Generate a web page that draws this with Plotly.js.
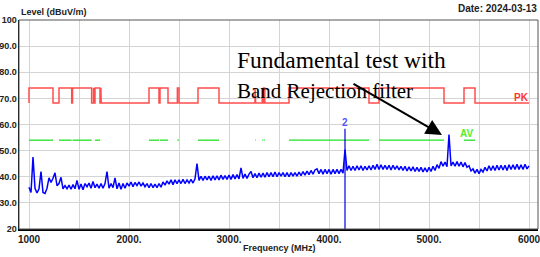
<!DOCTYPE html>
<html>
<head>
<meta charset="utf-8">
<script src="https://cdn.plot.ly/plotly-3.0.1.min.js"></script>
<style>html,body{margin:0;padding:0;background:#fff;}#chart{width:540px;height:257px;}</style>
</head>
<body>
<div id="chart"></div>
<script>
// Sweep grid of the measured trace (MHz)
var freqStart = 1000;
var freqStep = 20;
// Measured level (dBuV/m), one value per sweep point 1000..6000 MHz
var level = [
 36.0, 34.0, 47.5, 35.6, 33.8, 35.4, 42.0, 34.0, 33.6, 35.6,
 39.6, 37.8, 39.4, 41.5, 36.6, 37.4, 39.8, 35.4, 36.6, 35.4,
 36.8, 35.2, 37.0, 35.4, 38.6, 35.2, 37.2, 35.0, 37.4, 36.2,
 37.6, 35.6, 38.2, 35.8, 37.2, 35.6, 37.4, 35.6, 37.4, 42.0,
 35.6, 37.4, 35.8, 39.6, 35.4, 37.6, 35.2, 37.4, 35.6, 37.6,
 36.4, 38.0, 36.2, 37.8, 36.6, 38.0, 36.4, 37.6, 36.2, 37.4,
 35.8, 37.4, 35.8, 37.2, 35.8, 37.4, 36.0, 38.0, 36.8, 38.4,
 37.2, 38.8, 37.0, 38.8, 37.4, 38.8, 37.4, 39.0, 37.4, 38.8,
 37.6, 39.0, 37.6, 39.2, 45.0, 38.6, 40.2, 38.6, 40.2, 38.8,
 40.2, 38.6, 40.4, 38.8, 40.4, 38.8, 40.6, 39.0, 40.4, 39.0,
 40.6, 39.0, 40.8, 39.2, 40.8, 39.2, 43.4, 39.4, 41.0, 39.4,
 41.0, 42.0, 39.6, 41.2, 39.6, 41.4, 39.8, 41.4, 39.8, 41.6,
 40.0, 41.6, 40.0, 41.8, 40.0, 41.6, 40.2, 41.6, 40.0, 41.6,
 40.0, 41.6, 40.2, 41.6, 40.2, 41.8, 40.4, 42.0, 40.6, 42.2,
 40.8, 42.4, 41.0, 42.6, 43.0, 41.2, 42.8, 41.0, 42.8, 41.2,
 42.8, 41.0, 42.8, 41.2, 42.8, 41.2, 42.8, 41.4, 50.4, 42.4,
 44.2, 42.4, 44.0, 42.4, 44.2, 42.6, 44.2, 42.4, 44.0, 42.6,
 44.2, 42.6, 44.4, 42.8, 44.8, 42.8, 44.6, 42.8, 44.4, 42.8,
 44.4, 42.6, 44.4, 42.8, 44.2, 42.6, 44.0, 42.4, 44.0, 42.2,
 43.8, 42.2, 43.8, 42.0, 43.6, 42.0, 43.6, 41.8, 43.4, 41.8,
 43.6, 42.0, 44.0, 42.4, 44.6, 43.2, 45.8, 44.0, 45.6, 43.8,
 56.2, 44.2, 45.6, 44.0, 45.8, 44.0, 45.6, 43.8, 45.4, 43.6,
 44.2, 42.2, 43.0, 41.4, 42.8, 41.2, 42.8, 41.8, 43.6, 42.2,
 44.2, 42.4, 44.2, 42.4, 44.4, 42.6, 44.4, 42.6, 44.4, 42.4,
 44.6, 42.8, 44.6, 42.8, 44.8, 42.8, 44.6, 42.8, 44.8, 43.0,
 44.2
];
// Restricted bands (MHz) where the higher limits apply
var bandStart = [1000, 1300, 1435, 1645.5, 1660, 1718.8, 2200, 2310, 2483.5, 2690, 3260, 3332, 3345.8, 3600, 4500, 5350];
var bandEnd   = [1240, 1427, 1626.5, 1646.5, 1710, 1722.2, 2300, 2390, 2500, 2900, 3267, 3339, 3358, 4400, 5150, 5460];
var pkHigh = 74, pkLow = 68.2, avLimit = 54;
var limitStart = 1000, limitEnd = 6000;
// Marker 2
var markerFreq = 4160, markerLevel = 58.4, markerLabel = "2";
// Tick labels
var xTickVals = [1000, 1500, 2000, 2500, 3000, 3500, 4000, 4500, 5000, 5500, 6000];
var xTickText = ["1000", "", "2000.", "", "3000.", "", "4000.", "", "5000.", "", "6000"];
var yTickVals = [20, 30, 40, 50, 60, 70, 80, 90, 100];
var yTickText = ["20", "30.0", "40.0", "50.0", "60.0", "70.0", "80.0", "90.0", "100"];

var freq = level.map(function (v, i) { return freqStart + i * freqStep; });

var pkX = [limitStart], pkY = [pkLow];
var avX = [], avY = [];
for (var i = 0; i < bandStart.length; i++) {
  pkX.push(bandStart[i], bandStart[i], bandEnd[i], bandEnd[i]);
  pkY.push(pkLow, pkHigh, pkHigh, pkLow);
  avX.push(bandStart[i], bandEnd[i], null);
  avY.push(avLimit, avLimit, null);
}
pkX.push(limitEnd); pkY.push(pkLow);

var sans = "Liberation Sans, Arial, sans-serif";
var serif = "Liberation Serif, Times New Roman, serif";

var traces = [
  {x: pkX, y: pkY, mode: "lines", line: {color: "#ff4d4d", width: 1.5}, hoverinfo: "skip"},
  {x: avX, y: avY, mode: "lines", line: {color: "#22e022", width: 1.3}, connectgaps: false, hoverinfo: "skip"},
  {x: [markerFreq, markerFreq], y: [20, markerLevel], mode: "lines", line: {color: "#0000dd", width: 1.2}, hoverinfo: "skip"},
  {x: freq, y: level, mode: "lines", line: {color: "#0000ff", width: 1.5}, hoverinfo: "skip"}
];

var layout = {
  width: 540, height: 257,
  margin: {l: 19, r: 2, t: 19.5, b: 28, pad: 0},
  paper_bgcolor: "#ffffff", plot_bgcolor: "#ffffff",
  showlegend: false,
  xaxis: {
    range: [900, 6090], tickvals: xTickVals, ticktext: xTickText,
    showgrid: true, gridcolor: "#d4d4d4", gridwidth: 1, zeroline: false,
    showline: true, linecolor: "#000", linewidth: 1.5, ticks: "",
    ticklabeloverflow: "allow",
    tickfont: {family: sans, size: 10, color: "#222", weight: "bold"}
  },
  yaxis: {
    range: [20, 100], tickvals: yTickVals, ticktext: yTickText,
    showgrid: true, gridcolor: "#d4d4d4", gridwidth: 1, zeroline: false,
    showline: true, linecolor: "#000", linewidth: 1.5, ticks: "",
    ticklabeloverflow: "allow", ticklabelstandoff: -1,
    tickfont: {family: sans, size: 9, color: "#222", weight: "bold"}
  },
  shapes: [
    {type: "rect", xref: "paper", yref: "paper", x0: 0, x1: 1, y0: 0, y1: 1, line: {color: "#555", width: 1}, layer: "above"}
  ],
  annotations: [
    {xref: "paper", yref: "paper", x: 0, y: 1, yshift: 8, xanchor: "left", yanchor: "middle", showarrow: false,
     text: "Level (dBuV/m)", font: {family: sans, size: 9, color: "#222", weight: "bold"}},
    {xref: "paper", yref: "paper", x: 1, y: 1, xshift: 1, yshift: 12, xanchor: "right", yanchor: "middle", showarrow: false,
     text: "Date: 2024-03-13", font: {family: sans, size: 10, color: "#222", weight: "bold"}},
    {xref: "paper", yref: "paper", x: 0.502, y: 0, yshift: -19, xanchor: "center", yanchor: "middle", showarrow: false,
     text: "Frequency (MHz)", font: {family: sans, size: 9, color: "#222", weight: "bold"}},
    {x: 5920, y: 70.5, showarrow: false, text: "PK", font: {family: sans, size: 10, color: "#ff3333", weight: "bold"}},
    {x: 5370, y: 56.6, showarrow: false, text: "AV", font: {family: sans, size: 10, color: "#55ee22", weight: "bold"}},
    {x: markerFreq, y: markerLevel + 2.3, showarrow: false, text: markerLabel, font: {family: sans, size: 10, color: "#5555ff", weight: "bold"}},
    {x: 5130, y: 56.0, ax: -90, ay: -52, showarrow: true, arrowhead: 2, arrowsize: 1.6, arrowwidth: 2, arrowcolor: "#000", text: ""},
    {xref: "paper", yref: "paper", x: (235 - 19) / 519, y: 1, yshift: -40, xanchor: "left", yanchor: "middle", showarrow: false,
     text: "Fundamental test with", font: {family: serif, size: 23.5, color: "#000"}},
    {xref: "paper", yref: "paper", x: (235 - 19) / 519, y: 1, yshift: -71, xanchor: "left", yanchor: "middle", showarrow: false,
     text: "Band Rejection filter", font: {family: serif, size: 21, color: "#000"}}
  ]
};

Plotly.newPlot("chart", traces, layout, {staticPlot: true, displayModeBar: false});
</script>
</body>
</html>
